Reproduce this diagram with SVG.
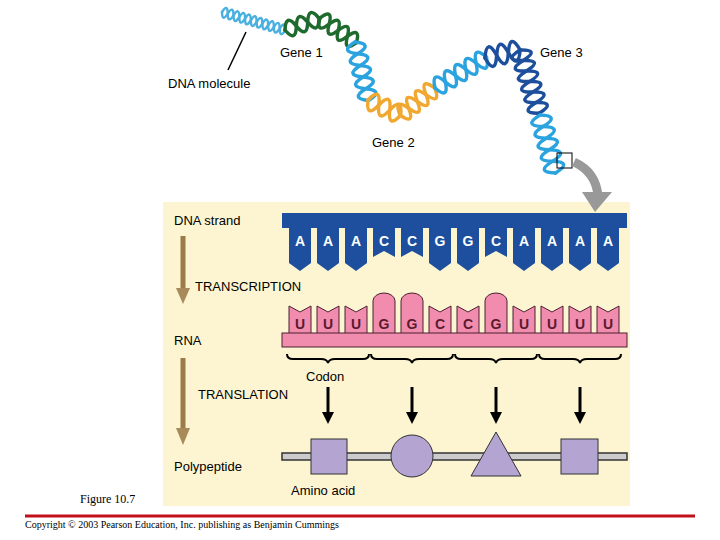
<svg xmlns="http://www.w3.org/2000/svg" xmlns:xlink="http://www.w3.org/1999/xlink" width="720" height="540" viewBox="0 0 720 540">
<style>
.t{font-family:"Liberation Sans",Arial,sans-serif;font-size:13px;fill:#000}
.b{font-family:"Liberation Sans",Arial,sans-serif;font-size:14px;font-weight:bold;text-anchor:middle}
.dna{fill:#1d4f9e}
.rna{fill:#f28cae;stroke:#4a2030;stroke-width:1}
.h{fill:none;stroke-width:3.5;stroke-linecap:round}
.ar{stroke:#000;stroke-width:3;fill:none}
</style>
<defs>
<marker id="ah" markerWidth="4" markerHeight="4" refX="2" refY="2" orient="auto" markerUnits="strokeWidth"><path d="M0,0 L4,2 L0,4 Z" fill="#000"/></marker>
</defs>
<rect width="720" height="540" fill="#fff"/>
<rect x="163" y="202" width="467" height="304" fill="#fdf5d2"/>
<g id="helix">
<g transform="translate(222,12) rotate(16)" stroke="#4ab0e0">
<path class="h" style="stroke-width:2.5" d="M0,0 q3,-10 6,0 t6,0 t6,0 t6,0 t6,0 t6,0 t6,0 t6,0 t6,0 t6,0 t6,0"/>
<path class="h" style="stroke-width:2.5" d="M0,0 q3,10 6,0 t6,0 t6,0 t6,0 t6,0 t6,0 t6,0 t6,0 t6,0 t6,0 t6,0"/>
</g>
<g transform="translate(285,30) rotate(-19)" stroke="#1f6b2e">
<path class="h" d="M0,0 q6,-16 12,0 t12,0 t12,0"/><path class="h" d="M0,0 q6,16 12,0 t12,0 t12,0"/></g>
<g transform="translate(320,18) rotate(34)" stroke="#1f6b2e">
<path class="h" d="M0,0 q5.5,-16 11,0 t11,0 t11,0 t11,0"/><path class="h" d="M0,0 q5.5,16 11,0 t11,0 t11,0 t11,0"/></g>
<g transform="translate(355,42) rotate(77)" stroke="#2ba3df">
<path class="h" d="M0,0 q6,-18 12,0 t12,0 t12,0 t12,0 t12,0"/><path class="h" d="M0,0 q6,18 12,0 t12,0 t12,0 t12,0 t12,0"/></g>
<g transform="translate(368,100) rotate(25)" stroke="#f0a830">
<path class="h" d="M0,0 q6,-18 12,0 t12,0 t12,0"/><path class="h" d="M0,0 q6,18 12,0 t12,0 t12,0"/></g>
<g transform="translate(400,115) rotate(-38)" stroke="#f0a830">
<path class="h" d="M0,0 q5.5,-18 11,0 t11,0 t11,0 t11,0"/><path class="h" d="M0,0 q5.5,18 11,0 t11,0 t11,0 t11,0"/></g>
<g transform="translate(435,88) rotate(-31)" stroke="#2ba3df">
<path class="h" d="M0,0 q6,-18 12,0 t12,0 t12,0 t12,0 t12,0"/><path class="h" d="M0,0 q6,18 12,0 t12,0 t12,0 t12,0 t12,0"/></g>
<g transform="translate(485,58) rotate(-13)" stroke="#1e4f9c">
<path class="h" d="M0,0 q6,-20 12,0 t12,0 t12,0"/><path class="h" d="M0,0 q6,20 12,0 t12,0 t12,0"/></g>
<g transform="translate(520,50) rotate(73)" stroke="#1e4f9c">
<path class="h" d="M0,0 q5.5,-20 11,0 t11,0 t11,0 t11,0 t11,0 t11,0"/><path class="h" d="M0,0 q5.5,20 11,0 t11,0 t11,0 t11,0 t11,0 t11,0"/></g>
<g transform="translate(540,115) rotate(75)" stroke="#2ba3df">
<path class="h" d="M0,0 q6,-20 12,0 t12,0 t12,0 t12,0 t12,0"/><path class="h" d="M0,0 q6,20 12,0 t12,0 t12,0 t12,0 t12,0"/></g>
<rect x="557" y="153" width="15" height="15" fill="none" stroke="#000" stroke-width="1"/>
</g>
<g id="labels-top">
<line x1="246" y1="32" x2="228" y2="70" stroke="#000" stroke-width="1.5"/>
<text class="t" x="168" y="88">DNA molecule</text>
<text class="t" x="280" y="57">Gene 1</text>
<text class="t" x="540" y="57">Gene 3</text>
<text class="t" x="372" y="147">Gene 2</text>
</g>
<g id="zoom-arrow">
<path d="M574,162 Q596,172 598,196" fill="none" stroke="#999" stroke-width="9"/>
<path d="M582,192 L612,192 L595,212 Z" fill="#999"/>
</g>
<g id="dna-strand">
<rect x="282" y="213" width="345" height="15" class="dna"/>
<g class="dna">
<polygon points="289,228 311,228 311,263 300,271 289,263"/>
<polygon points="317,228 339,228 339,263 328,271 317,263"/>
<polygon points="345,228 367,228 367,263 356,271 345,263"/>
<polygon points="373,228 395,228 395,257 384,251 373,257"/>
<polygon points="401,228 423,228 423,257 412,251 401,257"/>
<polygon points="429,228 451,228 451,263 440,271 429,263"/>
<polygon points="457,228 479,228 479,263 468,271 457,263"/>
<polygon points="485,228 507,228 507,257 496,251 485,257"/>
<polygon points="513,228 535,228 535,263 524,271 513,263"/>
<polygon points="541,228 563,228 563,263 552,271 541,263"/>
<polygon points="569,228 591,228 591,263 580,271 569,263"/>
<polygon points="597,228 619,228 619,263 608,271 597,263"/>
</g>
<g class="b" fill="#fff">
<text x="300" y="246">A</text><text x="328" y="246">A</text><text x="356" y="246">A</text><text x="384" y="246">C</text><text x="412" y="246">C</text><text x="440" y="246">G</text><text x="468" y="246">G</text><text x="496" y="246">C</text><text x="524" y="246">A</text><text x="552" y="246">A</text><text x="580" y="246">A</text><text x="608" y="246">A</text>
</g>
</g>
<g id="rna">
<polygon class="rna" points="289,334 289,306 300,312 311,306 311,334"/>
<polygon class="rna" points="317,334 317,306 328,312 339,306 339,334"/>
<polygon class="rna" points="345,334 345,306 356,312 367,306 367,334"/>
<path class="rna" d="M373,334 V301 A11,8 0 0 1 395,301 V334 Z"/>
<path class="rna" d="M401,334 V301 A11,8 0 0 1 423,301 V334 Z"/>
<polygon class="rna" points="429,334 429,306 440,312 451,306 451,334"/>
<polygon class="rna" points="457,334 457,306 468,312 479,306 479,334"/>
<path class="rna" d="M485,334 V301 A11,8 0 0 1 507,301 V334 Z"/>
<polygon class="rna" points="513,334 513,306 524,312 535,306 535,334"/>
<polygon class="rna" points="541,334 541,306 552,312 563,306 563,334"/>
<polygon class="rna" points="569,334 569,306 580,312 591,306 591,334"/>
<polygon class="rna" points="597,334 597,306 608,312 619,306 619,334"/>
<rect x="282" y="333" width="345" height="14" class="rna"/>
<g class="b" fill="#5a1a30">
<text x="300" y="329">U</text><text x="328" y="329">U</text><text x="356" y="329">U</text><text x="384" y="329">G</text><text x="412" y="329">G</text><text x="440" y="329">C</text><text x="468" y="329">C</text><text x="496" y="329">G</text><text x="524" y="329">U</text><text x="552" y="329">U</text><text x="580" y="329">U</text><text x="608" y="329">U</text>
</g>
</g>
<g id="braces" fill="none" stroke="#000" stroke-width="2">
<path d="M287,354 q0,5 6,5 h28 q6,0 7,4 q1,-4 7,-4 h28 q6,0 6,-5"/>
<path d="M371,354 q0,5 6,5 h28 q6,0 7,4 q1,-4 7,-4 h28 q6,0 6,-5"/>
<path d="M455,354 q0,5 6,5 h28 q6,0 7,4 q1,-4 7,-4 h28 q6,0 6,-5"/>
<path d="M539,354 q0,5 6,5 h28 q6,0 7,4 q1,-4 7,-4 h28 q6,0 6,-5"/>
</g>
<g id="connectors">
<line class="ar" x1="328" y1="387" x2="328" y2="418" marker-end="url(#ah)"/>
<line class="ar" x1="412" y1="387" x2="412" y2="418" marker-end="url(#ah)"/>
<line class="ar" x1="496" y1="387" x2="496" y2="418" marker-end="url(#ah)"/>
<line class="ar" x1="580" y1="387" x2="580" y2="418" marker-end="url(#ah)"/>
<line x1="183" y1="236" x2="183" y2="290" stroke="#9c7a4a" stroke-width="5"/>
<polygon points="176,288 190,288 183,304" fill="#a88a5a"/>
<line x1="183" y1="358" x2="183" y2="430" stroke="#9c7a4a" stroke-width="5"/>
<polygon points="176,428 190,428 183,445" fill="#a88a5a"/>
</g>
<g id="polypeptide">
<rect x="282" y="453" width="345" height="7" fill="#ccc" stroke="#333" stroke-width="1.5"/>
<rect x="311" y="439" width="36" height="35" fill="#b3a4d2" stroke="#333" stroke-width="1"/>
<circle cx="412" cy="456" r="21" fill="#b3a4d2" stroke="#333" stroke-width="1"/>
<polygon points="496,432 521,476 471,476" fill="#b3a4d2" stroke="#333" stroke-width="1"/>
<rect x="561" y="439" width="37" height="35" fill="#b3a4d2" stroke="#333" stroke-width="1"/>
</g>
<g id="labels">
<text class="t" x="174" y="225">DNA strand</text>
<text class="t" x="195" y="291">TRANSCRIPTION</text>
<text class="t" x="174" y="345">RNA</text>
<text class="t" x="306" y="381">Codon</text>
<text class="t" x="198" y="399">TRANSLATION</text>
<text class="t" x="174" y="471">Polypeptide</text>
<text class="t" x="291" y="495">Amino acid</text>
<text x="80" y="503" font-family="Liberation Serif,serif" font-size="12">Figure 10.7</text>
<text x="25" y="528" font-family="Liberation Serif,serif" font-size="10">Copyright © 2003 Pearson Education, Inc. publishing as Benjamin Cummings</text>
</g>
<line x1="25" y1="516" x2="695" y2="516" stroke="#c0101a" stroke-width="3"/>
</svg>
